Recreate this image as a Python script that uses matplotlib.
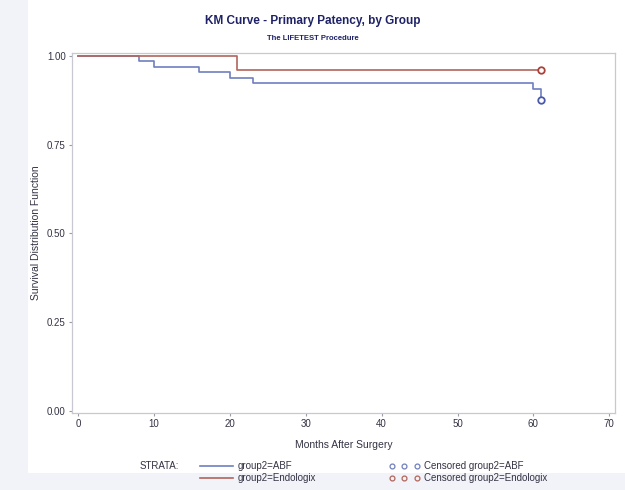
import matplotlib
matplotlib.use("Agg")
import matplotlib.pyplot as plt
from matplotlib.lines import Line2D
from matplotlib.patches import Rectangle

plt.rcParams["font.family"] = ["Liberation Sans", "DejaVu Sans"]

# Kaplan-Meier step data
abf_time = [0, 8, 10, 16, 20, 23, 60, 61]
abf_surv = [1.0, 0.985, 0.969, 0.954, 0.938, 0.923, 0.908, 0.877]
abf_cens_time = [61]
abf_cens_surv = [0.877]

endo_time = [0, 21, 61]
endo_surv = [1.0, 0.961, 0.961]
endo_cens_time = [61]
endo_cens_surv = [0.961]

x_ticks = [0, 10, 20, 30, 40, 50, 60, 70]
y_ticks = [0.0, 0.25, 0.5, 0.75, 1.0]

blue = "#6f7fc0"
red = "#b2645a"
navy = "#1f2366"
txt = "#333344"

fig = plt.figure(figsize=(6.25, 4.9), dpi=100)
fig.patch.set_facecolor("#f2f3f8")
fig.add_artist(Rectangle((0.045, 0.035), 0.955, 0.965, transform=fig.transFigure,
                         facecolor="white", edgecolor="none", zorder=-10))

ax = fig.add_axes([0.1152, 0.157, 0.8688, 0.7347])
ax.step(abf_time, abf_surv, where="post", color=blue, lw=1.2)
ax.step(endo_time, endo_surv, where="post", color=red, lw=1.2)
ax.scatter(abf_cens_time, abf_cens_surv, s=22, facecolors="white", edgecolors="#4a5aa8", linewidths=1.3, zorder=3)
ax.scatter(endo_cens_time, endo_cens_surv, s=22, facecolors="white", edgecolors="#a8433a", linewidths=1.3, zorder=3)

ax.set_xlim(-0.79, 70.75)
ax.set_ylim(-0.0065, 1.0085)
ax.set_xticks(x_ticks)
ax.set_yticks(y_ticks)
ax.set_yticklabels([f"{v:.2f}" for v in y_ticks])
ax.tick_params(labelsize=7, colors="#9a9aa8", labelcolor=txt, length=2.5, width=0.8, pad=2)
for sp in ax.spines.values():
    sp.set_color("#c8c8d0")
    sp.set_linewidth(0.9)
ax.set_xlabel("Months After Surgery", fontsize=7.5, color=txt, labelpad=8)
ax.set_ylabel("Survival Distribution Function", fontsize=7.5, color=txt, labelpad=4)

fig.text(0.5, 0.958, "KM Curve - Primary Patency, by Group", ha="center", va="center",
         fontsize=8.5, fontweight="bold", color=navy)
fig.text(0.5, 0.922, "The LIFETEST Procedure", ha="center", va="center",
         fontsize=5.5, fontweight="bold", color=navy)

# legend drawn in figure coordinates
fig.text(0.224, 0.048, "STRATA:", fontsize=7, color=txt, va="center")
fig.add_artist(Line2D([0.32, 0.372], [0.048, 0.048], color=blue, lw=1.2, transform=fig.transFigure))
fig.add_artist(Line2D([0.32, 0.372], [0.024, 0.024], color=red, lw=1.2, transform=fig.transFigure))
fig.text(0.38, 0.048, "group2=ABF", fontsize=7, color=txt, va="center")
fig.text(0.38, 0.024, "group2=Endologix", fontsize=7, color=txt, va="center")
for xx in [0.627, 0.647, 0.667]:
    fig.add_artist(Line2D([xx], [0.048], marker="o", ms=3.5, mfc="none", mec=blue, mew=0.9,
                          transform=fig.transFigure))
    fig.add_artist(Line2D([xx], [0.024], marker="o", ms=3.5, mfc="none", mec=red, mew=0.9,
                          transform=fig.transFigure))
fig.text(0.678, 0.048, "Censored group2=ABF", fontsize=7, color=txt, va="center")
fig.text(0.678, 0.024, "Censored group2=Endologix", fontsize=7, color=txt, va="center")

fig.savefig("out.png", dpi=100, facecolor=fig.get_facecolor())
